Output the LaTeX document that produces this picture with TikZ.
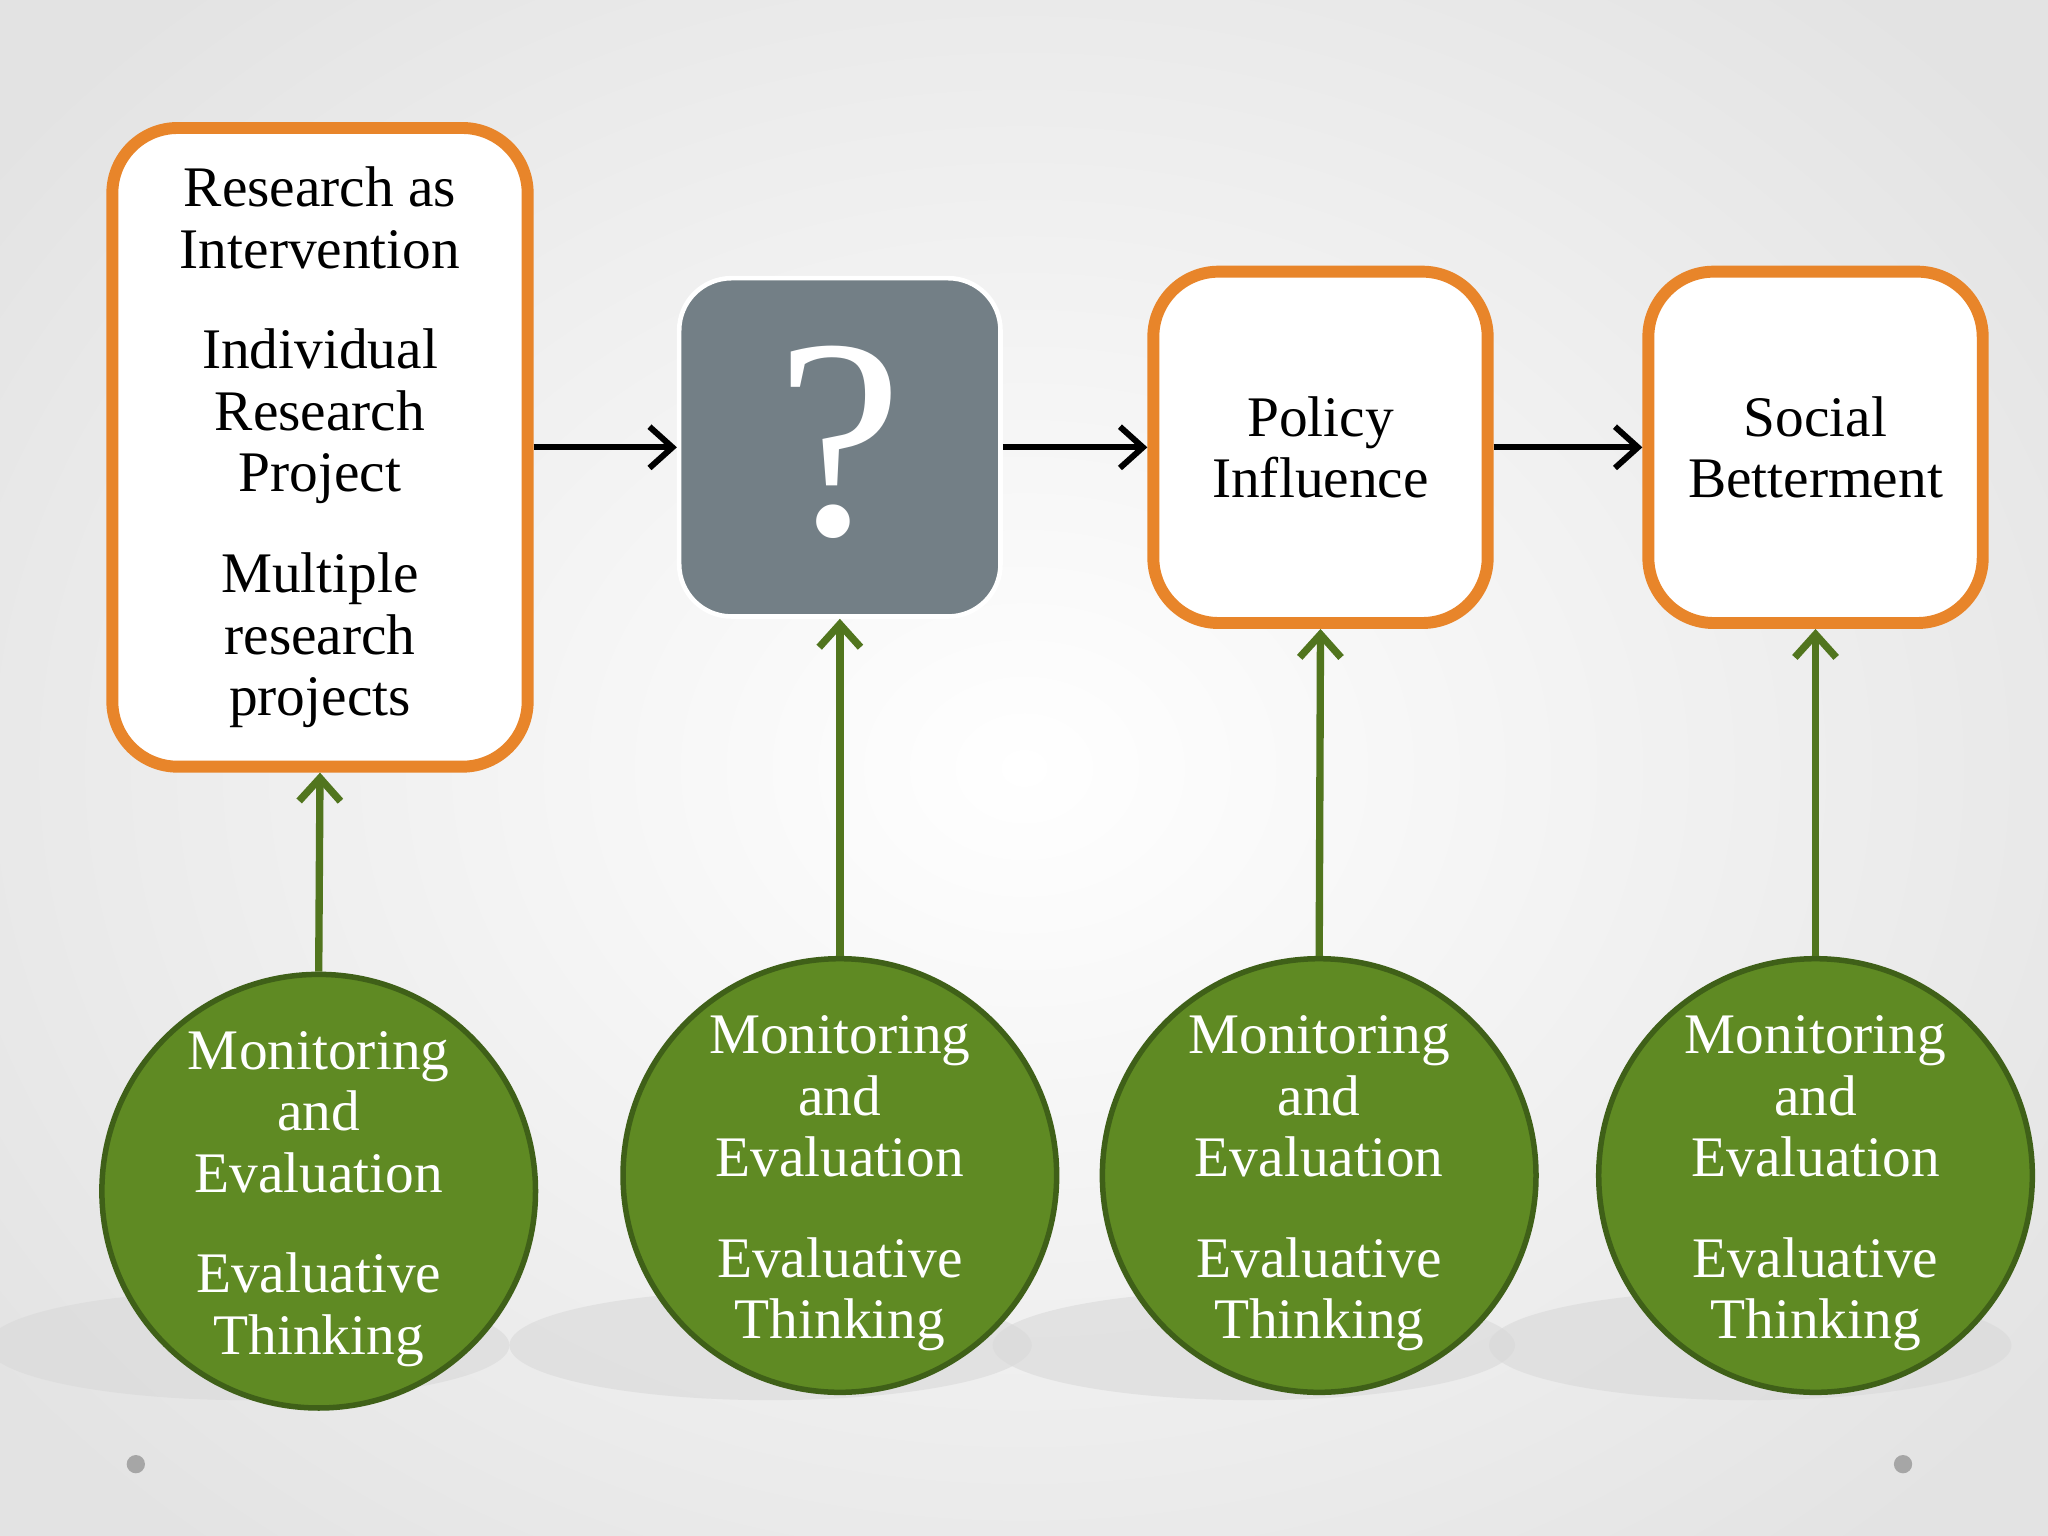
\documentclass[tikz,border=0pt]{standalone}
\usepackage{fontspec}
\setmainfont{Liberation Serif}
\usetikzlibrary{arrows.meta,shadings}
\definecolor{org}{HTML}{E8852A}
\definecolor{grn}{HTML}{5F8A23}
\definecolor{dgrn}{HTML}{3F6018}
\definecolor{qgray}{HTML}{737F86}
\tikzset{
 obox/.style={draw=org,line width=2.6pt,fill=white,rounded corners=0.5cm,align=center,inner sep=0pt,font=\fontsize{12.5}{13.4}\selectfont},
 circ/.style={circle,draw=dgrn,line width=1.2pt,fill=grn,inner sep=0pt,minimum size=3.32cm},
 ctext/.style={align=center,text=white,font=\fontsize{12.5}{13.4}\selectfont},
 blk/.style={-{Straight Barb[length=5pt,width=9pt]},line width=1.3pt,black},
 garr/.style={-{Straight Barb[length=5pt,width=9pt]},line width=1.6pt,grn!85!black}
}
\begin{document}
\begin{tikzpicture}[x=1cm,y=1cm]
\useasboundingbox (0,0) rectangle (15.68,-11.76);
\shade[inner color=white,outer color=gray!22] (-2,2) rectangle (17.68,-13.76);
\clip (0,0) rectangle (15.68,-11.76);
\foreach \x in {2.2,6.2,9.9,13.7}{\fill[gray!30,opacity=0.6] (\x-0.3,-10.3) ellipse (2.0 and 0.42);}
\node[obox,minimum width=3.18cm,minimum height=4.89cm] (a) at (2.45,-3.425) {Research as\\Intervention\\[0.3cm]Individual\\Research\\Project\\[0.3cm]Multiple\\research\\projects};
\node[fill=qgray,rounded corners=0.4cm,minimum width=2.46cm,minimum height=2.59cm,draw=white,line width=1pt] (q) at (6.43,-3.425) {};
\node[text=white,font=\fontsize{62}{62}\selectfont] (qm) at ([yshift=1pt]q.center) {?};
\node[obox,minimum width=2.56cm,minimum height=2.69cm] (p) at (10.11,-3.425) {Policy\\Influence};
\node[obox,minimum width=2.56cm,minimum height=2.69cm] (s) at (13.9,-3.425) {Social\\Betterment};
\draw[blk] (a.east) -- (q.west);
\draw[blk] (q.east) -- (p.west);
\draw[blk] (p.east) -- (s.west);
\foreach \n/\x/\y in {c1/2.44/-9.12,c2/6.43/-9.0,c3/10.1/-9.0,c4/13.9/-9.0}{
 \node[circ] (\n) at (\x,\y) {};
 \node[ctext] (\n t) at ([yshift=-0.06cm]\n.center) {Monitoring\\and\\Evaluation\\[0.3cm]Evaluative\\Thinking};
}
\draw[garr] (c1.north) -- (a.south);
\draw[garr] (c2.north) -- (q.south);
\draw[garr] (c3.north) -- (p.south);
\draw[garr] (c4.north) -- (s.south);
\fill[gray!70] (1.04,-11.21) circle (0.07);
\fill[gray!70] (14.57,-11.21) circle (0.07);
\end{tikzpicture}
\end{document}
